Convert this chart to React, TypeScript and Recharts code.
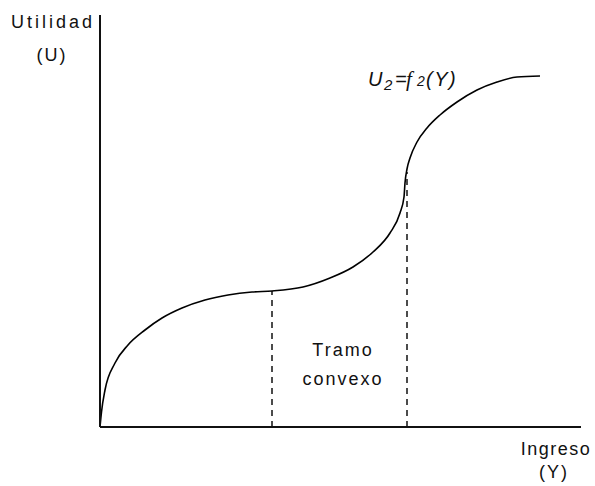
import { LineChart, Line, XAxis, YAxis, ReferenceLine } from 'recharts';

// income (Y) and utility (U)
const incomeX = [0, 1.5, 5, 15, 28, 45, 62, 82, 105, 128, 152, 172, 203, 230, 253, 273, 290, 300, 304, 305, 307, 310, 317, 327, 340, 357, 377, 397, 417, 440];
const utilityY = [0, 15, 37, 64, 82, 97, 109, 119, 127, 132, 135, 136, 140, 149, 160, 175, 194, 214, 230, 244, 258, 269, 285, 299, 312, 325, 337, 345, 350, 351];

// dashed limits of the convex stretch
const cutX = [172, 307];
const cutY = [136, 255];

const data = incomeX.map((x, i) => ({ x, u: utilityY[i] }));

const font = '"Liberation Sans", Arial, sans-serif';

export default function App() {
  return (
    <div style={{ position: 'absolute', left: 0, top: 0, width: 595, height: 486, background: '#fff' }}>
      <LineChart width={595} height={486} data={data} margin={{ top: 15, right: 14, left: 99, bottom: 58 }}>
        <XAxis
          type="number"
          dataKey="x"
          domain={[0, 481]}
          tick={false}
          tickLine={false}
          height={1}
          axisLine={{ stroke: '#111', strokeWidth: 2 }}
        />
        <YAxis
          type="number"
          domain={[0, 412]}
          tick={false}
          tickLine={false}
          width={1}
          axisLine={{ stroke: '#111', strokeWidth: 2 }}
        />
        {cutX.map((cx, i) => (
          <ReferenceLine
            key={cx}
            segment={[{ x: cx, y: 0 }, { x: cx, y: cutY[i] }]}
            stroke="#111"
            strokeWidth={1.5}
            strokeDasharray="6 5"
          />
        ))}
        <Line
          type="monotone"
          dataKey="u"
          stroke="#000"
          strokeWidth={1.6}
          dot={false}
          isAnimationActive={false}
        />
      </LineChart>
      <svg
        width={595}
        height={486}
        style={{ position: 'absolute', left: 0, top: 0, pointerEvents: 'none' }}
        fontFamily={font}
        fontSize={18}
        fill="#111"
      >
        <text x={53} y={28} textAnchor="middle" letterSpacing={3}>Utilidad</text>
        <text x={52} y={61} textAnchor="middle" letterSpacing={2}>(U)</text>
        <text x={343} y={356} textAnchor="middle" letterSpacing={2}>Tramo</text>
        <text x={343} y={385} textAnchor="middle" letterSpacing={2}>convexo</text>
        <text x={556} y={455} textAnchor="middle" letterSpacing={1.5}>Ingreso</text>
        <text x={554} y={478} textAnchor="middle" letterSpacing={2}>(Y)</text>
        <text y={86} fontStyle="italic" fontSize={20}>
          <tspan x={368}>U</tspan>
          <tspan x={384} fontSize={15} dy={4}>2</tspan>
          <tspan x={395} dy={-4}>=</tspan>
          <tspan x={406} fontFamily='"Liberation Serif", serif' fontSize={21}>f</tspan>
          <tspan x={417} fontSize={14}>2</tspan>
          <tspan x={426} letterSpacing={1.5}>(Y)</tspan>
        </text>
      </svg>
    </div>
  );
}
